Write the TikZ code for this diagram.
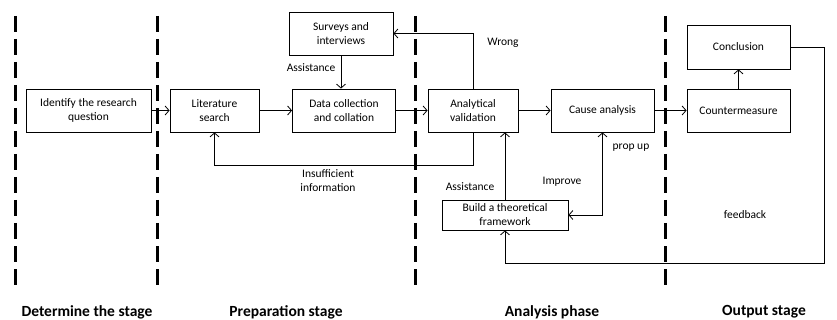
\documentclass[tikz,border=0pt]{standalone}
\usepackage{fontspec}
\setmainfont{Carlito}
\usetikzlibrary{arrows.meta}
\begin{document}
\begin{tikzpicture}[x=1pt,y=-1pt,
 box/.style={draw,line width=0.8pt,align=center,minimum height=43pt,inner sep=1pt,font=\fontsize{11.5}{14}\selectfont},
 lbl/.style={align=center,font=\fontsize{11.5}{14}\selectfont},
 stage/.style={font=\fontsize{15.5}{17}\selectfont\bfseries},
 line/.style={line width=0.8pt,-{Straight Barb[length=4pt,width=9pt]}},
 sep/.style={line width=3pt,dash pattern=on 16pt off 7pt}]
 \useasboundingbox (0,0) rectangle (837,320);
 % boxes
 \node[box,minimum width=125pt] (ident) at (88.5,110.5) {Identify the research\\question};
 \node[box,minimum width=89pt] (lit) at (214.5,110.5) {Literature\\search};
 \node[box,minimum width=103pt] (data) at (344,110.5) {Data collection\\and collation};
 \node[box,minimum width=104pt] (survey) at (341,33.5) {Surveys and\\interviews};
 \node[box,minimum width=90pt] (valid) at (473,110.5) {Analytical\\validation};
 \node[box,minimum width=103pt] (cause) at (602.5,110.5) {Cause analysis};
 \node[box,minimum width=103pt] (counter) at (738.5,110.5) {Countermeasure};
 \node[box,minimum width=103pt,minimum height=44pt] (concl) at (738.5,47) {Conclusion};
 \node[box,minimum width=126pt,minimum height=30pt] (theory) at (505,215) {Build a theoretical\\framework};
 \coordinate (insuf) at (473,165);
 \coordinate (fbr) at (824,263);
 % connectors
 \draw[line] (ident) -- (lit);
 \draw[line] (lit) -- (data);
 \draw[line] (data) -- (valid);
 \draw[line] (valid) -- (cause);
 \draw[line] (cause) -- (counter);
 \draw[line] (counter) -- (concl);
 \draw[line] (survey.south) -- (survey.south |- data.north);
 \draw[line] (valid.north) |- (survey.east);
 \draw[line] (valid.south) -- (insuf) -| (lit.south);
 \draw[line] (theory.north) -- (theory.north |- valid.south);
 \draw[line,{Straight Barb[length=4pt,width=9pt]}-{Straight Barb[length=4pt,width=9pt]}] (theory.east) -| (cause.south);
 \draw[line] (concl.east) -| (fbr) -| (theory.south);
 % labels
 \node[lbl] (wrong) at (503,43) {Wrong};
 \node[lbl] (insuflbl) at (328,181) {Insufficient\\information};
 \node[lbl] (assist1) at (311,68) {Assistance};
 \node[lbl] (assist2) at (470,187) {Assistance};
 \node[lbl] (prop) at (631,148) {prop up};
 \node[lbl] (improve) at (562,182) {Improve};
 \node[lbl] (feedback) at (745,215) {feedback};
 % stages
 \foreach \x in {15,157,415,665}
  \draw[sep] (\x,16) -- (\x,287);
 \node[stage] (s1) at (87,312) {Determine the stage};
 \node[stage] (s2) at (286,312) {Preparation stage};
 \node[stage] (s3) at (552,312) {Analysis phase};
 \node[stage] (s4) at (764,312) {Output stage};
\end{tikzpicture}
\end{document}
